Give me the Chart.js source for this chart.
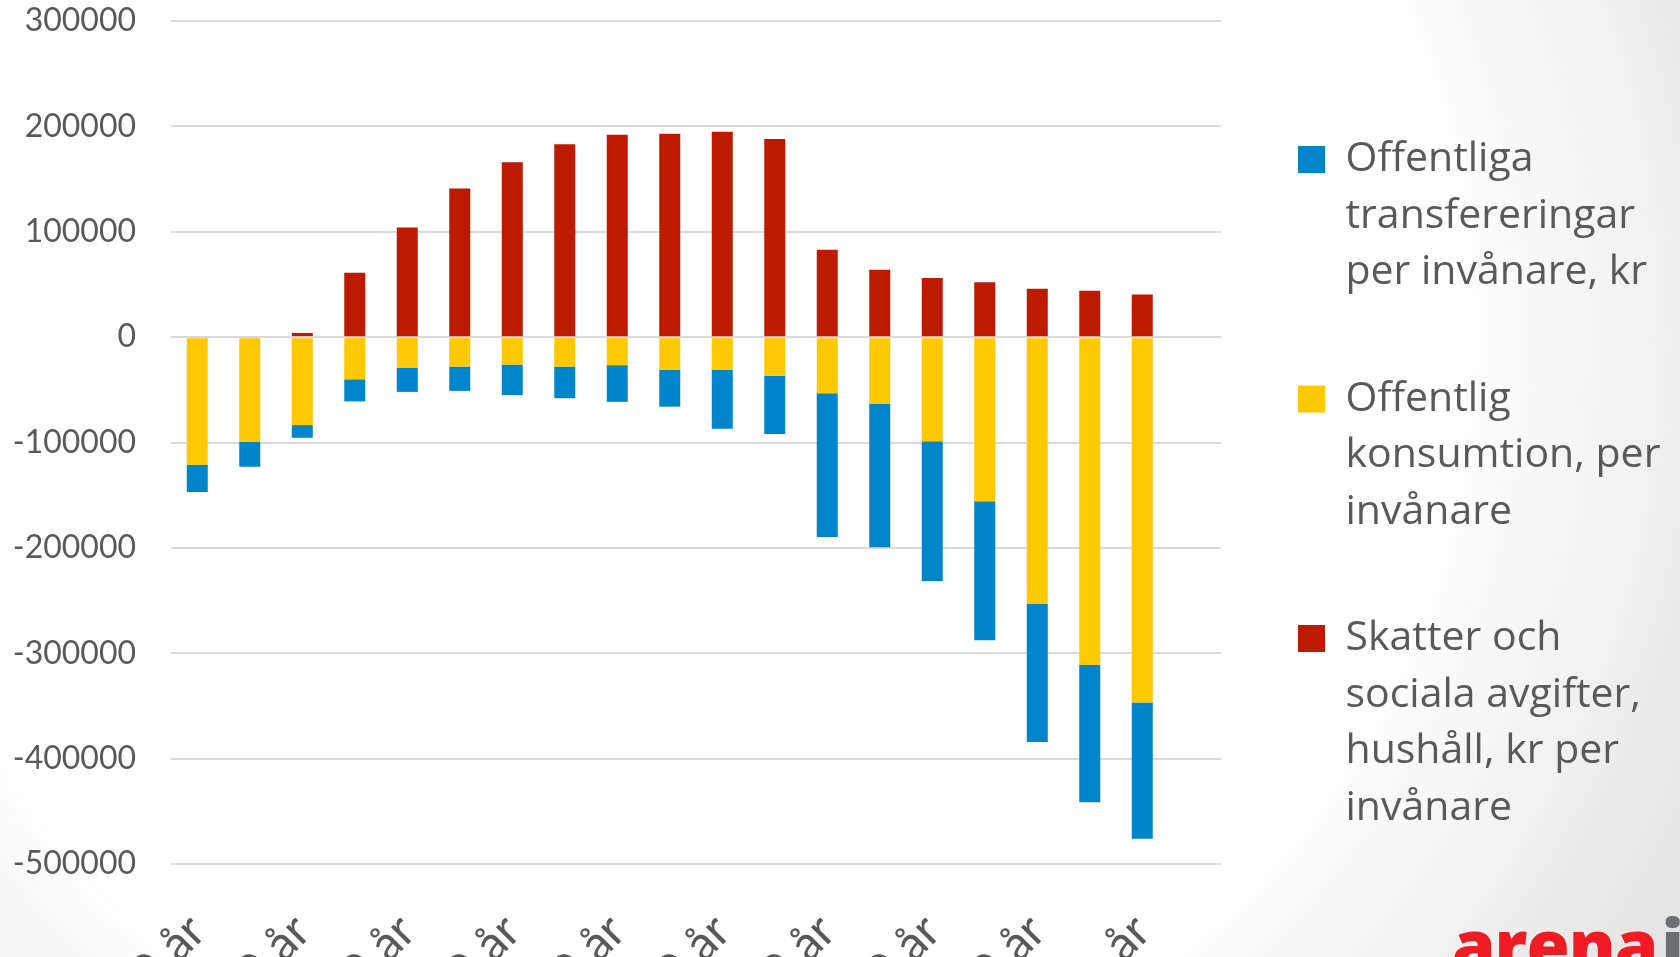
<!DOCTYPE html>
<html lang="sv">
<head>
<meta charset="utf-8">
<title>Offentliga transfereringar, konsumtion och skatter per ålder</title>
<script src="https://cdn.jsdelivr.net/npm/chart.js@4.4.1/dist/chart.umd.min.js"></script>
<style>
  html, body { margin: 0; padding: 0; }
  body {
    width: 1680px;
    height: 957px;
    overflow: hidden;
    position: relative;
    background: radial-gradient(circle farthest-corner at 40% 35%, #ffffff 66%, #e2e2e2 100%);
  }
  #chart { position: absolute; left: 0; top: 0; }
  .preload { position: absolute; left: -9999px; top: 0; }
  .logo {
    position: absolute;
    left: 1452px;
    top: 909px;
    font-family: "Open Sans", sans-serif;
    font-weight: 800;
    font-size: 70px;
    line-height: 1;
    letter-spacing: -1px;
    white-space: nowrap;
  }
  .logo .a { color: #ee1c25; }
  .logo .i { color: #6d6e71; margin-left: 4px; }
</style>
</head>
<body>
<canvas id="chart" width="1680" height="1000"></canvas>
<div class="logo"><span class="a">arena</span><span class="i">i</span></div>
<div class="preload"><span style="font-family: Lato">0123 år</span><span style="font-family: 'Open Sans'">Offentliga</span></div>

<script>
// ages, every other one is labelled on the axis; the last slot is empty
const AGES = [
  "0 år", "5 år", "10 år", "15 år", "20 år",
  "25 år", "30 år", "35 år", "40 år", "45 år",
  "50 år", "55 år", "60 år", "65 år", "70 år",
  "75 år", "80 år", "85 år", "90+ år", "",
];

// kr per invånare
const SKATTER = [
  0, 0, 4000, 61000, 104000, 141000, 166000, 183000, 192000, 193000,
  195000, 188000, 83000, 64000, 56000, 52000, 46000, 44000, 40500, null,
];
const KONSUMTION = [
  -121000, -99300, -83500, -40000, -29000, -28000, -26000, -28000, -26600, -31000,
  -31000, -36800, -53300, -63400, -98700, -155800, -253300, -311000, -346700, null,
];
const TRANSFERERINGAR = [
  -26000, -23700, -12000, -21000, -23000, -23000, -29000, -30000, -34800, -35000,
  -56000, -55200, -136300, -136000, -132800, -131900, -130900, -130300, -129300, null,
];

const NAME_SKATTER = ["Skatter och", "sociala avgifter,", "hushåll, kr per", "invånare"];
const NAME_KONSUMTION = ["Offentlig", "konsumtion, per", "invånare"];
const NAME_TRANSFER = ["Offentliga", "transfereringar", "per invånare, kr"];

const Y_MIN = -500000;
const Y_MAX = 300000;
const Y_STEP = 100000;

const RED = "#bd1a00";
const YELLOW = "#ffc900";
const BLUE = "#0084ca";
const TEXT = "#595959";

const PLOT_LEFT = 171;
const PLOT_RIGHT = 1221;
const PLOT_BOTTOM = 864;
const LEGEND_SHIFT = 7;

// legend sits right of the plot with a fixed width so the plot ends where it should
const legendBox = {
  id: "legendBox",
  afterInit(chart) {
    const legend = chart.legend;
    const fit = legend.fit;
    legend.fit = function () {
      fit.call(this);
      this.width = chart.width - PLOT_RIGHT;
    };
  },
  afterLayout(chart) {
    chart.legend.left += LEGEND_SHIFT;
    chart.legend.right += LEGEND_SHIFT;
  },
};

function draw() {
  const ctx = document.getElementById("chart");
  new Chart(ctx, {
    type: "bar",
    data: {
      labels: AGES,
      datasets: [
        { label: NAME_SKATTER, data: SKATTER, backgroundColor: RED },
        { label: NAME_KONSUMTION, data: KONSUMTION, backgroundColor: YELLOW },
        { label: NAME_TRANSFER, data: TRANSFERERINGAR, backgroundColor: BLUE },
      ],
    },
    options: {
      responsive: false,
      animation: false,
      events: [],
      barPercentage: 0.4,
      categoryPercentage: 1,
      layout: { padding: { top: 21, left: 0, right: 0, bottom: 0 } },
      scales: {
        x: {
          stacked: true,
          grid: { display: false, drawTicks: false },
          border: { display: false },
          afterFit(scale) { scale.height = ctx.height - PLOT_BOTTOM; },
          ticks: {
            autoSkip: false,
            maxRotation: 45,
            minRotation: 45,
            padding: 39,
            color: TEXT,
            font: { family: "Lato", size: 48 },
            callback(value, index) {
              return index % 2 === 0 ? this.getLabelForValue(value) : "";
            },
          },
        },
        y: {
          stacked: true,
          min: Y_MIN,
          max: Y_MAX,
          grid: { color: "#dadada", lineWidth: 2, drawTicks: false },
          border: { display: false },
          afterFit(scale) {
            scale.width = PLOT_LEFT;
            scale.paddingTop = 0;
            scale.paddingBottom = 0;
          },
          ticks: {
            stepSize: Y_STEP,
            padding: 35,
            color: TEXT,
            font: { family: "Lato", size: 32 },
            callback: (v) => String(v),
          },
        },
      },
      plugins: {
        tooltip: { enabled: false },
        legend: {
          position: "right",
          align: "start",
          reverse: true,
          title: { display: true, text: "", font: { size: 10, lineHeight: 1 }, padding: { top: 38, bottom: 0 } },
          labels: {
            boxWidth: 27,
            boxHeight: 27,
            padding: 70,
            color: TEXT,
            font: { family: "Open Sans", size: 41, lineHeight: 56.5 / 41 },
          },
        },
      },
    },
    plugins: [legendBox],
  });
}

document.fonts.ready
  .then(() => Promise.all([
    document.fonts.load("32px Lato"),
    document.fonts.load("41px 'Open Sans'"),
  ]))
  .then(draw, draw);
</script>
</body>
</html>
